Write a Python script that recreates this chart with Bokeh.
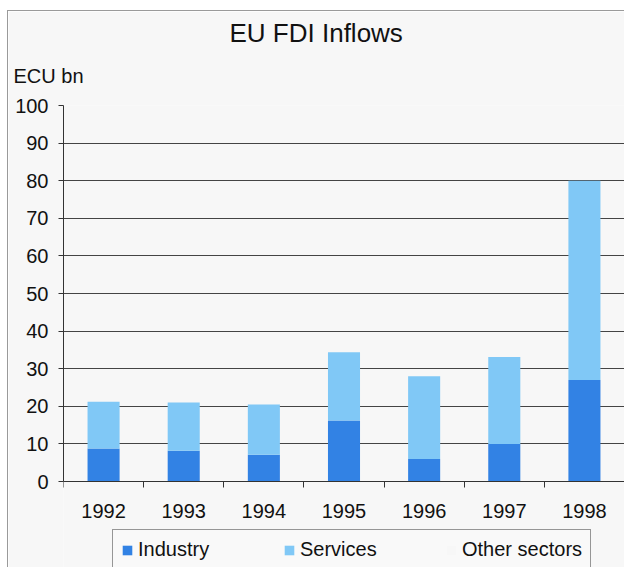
from bokeh.plotting import figure
from bokeh.models import Range1d, FixedTicker, Title, Legend, LegendItem
from bokeh.embed import file_html
from bokeh.resources import INLINE

years = ["1992", "1993", "1994", "1995", "1996", "1997", "1998"]
industry = [8.8, 8.2, 7.1, 16.2, 6.0, 10.0, 27.0]
services = [12.4, 12.8, 13.4, 18.2, 22.0, 23.1, 53.0]
other = [0, 0, 0, 0, 0, 0, 0]
series = ["Industry", "Services", "Other sectors"]
colors = ["#3282e4", "#80c8f6", "#f7f7f7"]
y_ticks = [0, 10, 20, 30, 40, 50, 60, 70, 80, 90, 100]

FONT = "Liberation Sans"
xs = [i + 0.5 for i in range(len(years))]
data = {"x": xs, "Industry": industry, "Services": services, "Other sectors": other}

# plot area: 376 px for 0..100, plus 86 px below zero for the axis labels and legend
PLOT_H, BELOW_H = 376, 86
y_start = -100 * BELOW_H / PLOT_H

p = figure(frame_width=561, frame_height=PLOT_H + BELOW_H, output_backend="svg",
           toolbar_location=None,
           x_range=Range1d(0, len(years)), y_range=Range1d(y_start, 100),
           min_border_left=55, min_border_right=0, min_border_top=94, min_border_bottom=0)
p.background_fill_color = "#f7f7f7"
p.border_fill_color = "#f7f7f7"
p.outline_line_color = None
p.styles = {"border-left": "1px solid #9a9a9a", "border-top": "1px solid #9a9a9a",
            "margin-left": "7px", "margin-top": "10px"}

rs = p.vbar_stack(series, x="x", width=0.4, color=colors, source=data, line_color=None)

p.xgrid.grid_line_color = None
p.ygrid.grid_line_color = "#444444"
p.ygrid.grid_line_width = 1
p.yaxis.ticker = FixedTicker(ticks=y_ticks)
p.yaxis.bounds = (0, 100)
p.xaxis.ticker = FixedTicker(ticks=xs, minor_ticks=list(range(len(years) + 1)))
p.xaxis.major_label_overrides = {x: y for x, y in zip(xs, years)}
p.xaxis.fixed_location = 0

for ax in (p.xaxis, p.yaxis):
    ax.axis_line_color = "#333333"
    ax.major_label_text_font = FONT
    ax.major_label_text_font_size = "20px"
    ax.major_label_text_color = "#111111"
    ax.major_tick_line_color = "#333333"
    ax.minor_tick_line_color = "#333333"
p.xaxis.major_tick_out = 0
p.xaxis.major_tick_in = 0
p.xaxis.minor_tick_out = 6
p.xaxis.minor_tick_in = 0
p.xaxis.major_label_standoff = 16
p.yaxis.major_tick_out = 5
p.yaxis.major_tick_in = 0
p.yaxis.minor_tick_line_color = None
p.yaxis.major_label_standoff = 10

p.title.text = "EU FDI Inflows"
p.title.text_font = FONT
p.title.text_font_size = "26px"
p.title.text_font_style = "normal"
p.title.text_color = "#111111"
p.title.align = "left"
p.title.offset = 166
p.title.standoff = -8
p.add_layout(Title(text="ECU bn", text_font=FONT, text_font_size="20px",
                   text_font_style="normal", text_color="#111111", align="left",
                   offset=-50, standoff=38), "above")

legend = Legend(items=[LegendItem(label=s, renderers=[r]) for s, r in zip(series, rs)],
                orientation="horizontal", location=(49, -3))
legend.label_text_font = FONT
legend.label_text_font_size = "20px"
legend.label_text_color = "#111111"
legend.glyph_width = 12
legend.glyph_height = 12
legend.label_standoff = 5
legend.label_width = 104
legend.label_height = 20
legend.spacing = 41
legend.padding = 8
legend.margin = 0
legend.border_line_color = "#333333"
legend.background_fill_color = "#f9f9f9"
legend.background_fill_alpha = 1
p.add_layout(legend, "center")

open("out.html", "w").write(file_html(p, INLINE))
